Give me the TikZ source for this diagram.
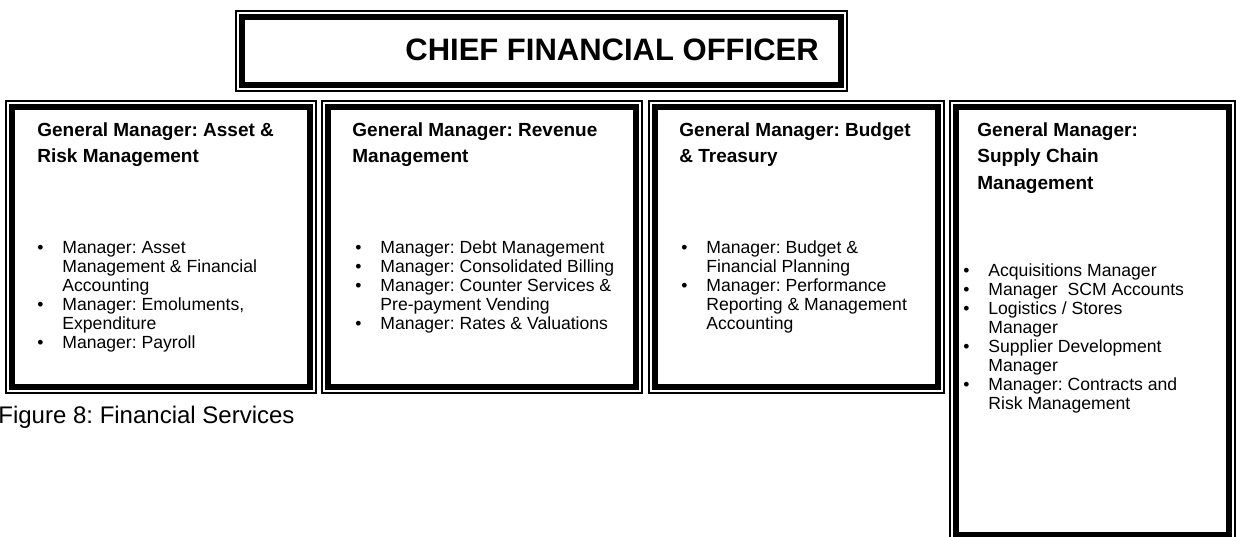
\documentclass[tikz,border=0pt]{standalone}
\usepackage{fontspec}
\setmainfont{Liberation Sans}
\usetikzlibrary{positioning}

\newcommand{\itm}{\makebox[12.5pt][l]{\textbullet}}
\newcommand{\cnt}{\hspace*{12.5pt}}
\newcommand{\lines}[1]{\begin{tabular}[t]{@{}l@{}}#1\end{tabular}}

\begin{document}
\begin{tikzpicture}[x=0.5pt,y=-0.5pt,
    framebox/.style={draw,line width=3pt,inner sep=0pt,outer sep=0pt},
    head/.style={anchor=base west,inner sep=0pt,font=\frenchspacing\bfseries\fontsize{9.5}{13.25}\selectfont},
    list/.style={anchor=base west,inner sep=0pt,font=\frenchspacing\fontsize{8.8}{9.5}\selectfont}]
          \useasboundingbox (0,0) rectangle (1237,536);
          \begin{scope}
            \node (cfo) at (541.5,51) [framebox,minimum width=299.5pt,minimum height=34pt]{};
            \node (gmAsset) at (161,247) [framebox,minimum width=149pt,minimum height=140pt]{};
            \node (gmRevenue) at (482,247) [framebox,minimum width=154pt,minimum height=140pt]{};
            \node (gmBudget) at (796.5,247) [framebox,minimum width=141.5pt,minimum height=140pt]{};
            \node (gmSupply) at (1092.5,321) [framebox,minimum width=136.5pt,minimum height=214pt]{};

            % thin outer rule round every box
            \foreach \b in {cfo,gmAsset,gmRevenue,gmBudget,gmSupply}
              \draw[line width=0.75pt] ([shift={(-3.1pt,3.1pt)}]\b.north west) rectangle ([shift={(3.1pt,-3.1pt)}]\b.south east);

            \node (cfoText) at (405,60) [anchor=base west,inner sep=0pt,font=\bfseries\fontsize{15.5}{18}\selectfont]{CHIEF FINANCIAL OFFICER};

            \node (assetHead) at (37,136) [head]{\lines{General Manager: Asset \&\\Risk Management}};
            \node (assetList) at (37,253) [list]{\lines{\itm Manager: Asset\\\cnt Management \& Financial\\\cnt Accounting\\\itm Manager: Emoluments,\\\cnt Expenditure\\\itm Manager: Payroll}};

            \node (revenueHead) at (352,136) [head]{\lines{General Manager: Revenue\\Management}};
            \node (revenueList) at (355,253) [list]{\lines{\itm Manager: Debt Management\\\itm Manager: Consolidated Billing\\\itm Manager: Counter Services \&\\\cnt Pre-payment Vending\\\itm Manager: Rates \& Valuations}};

            \node (budgetHead) at (679,136) [head]{\lines{General Manager: Budget\\\& Treasury}};
            \node (budgetList) at (681,253) [list]{\lines{\itm Manager: Budget \&\\\cnt Financial Planning\\\itm Manager: Performance\\\cnt Reporting \& Management\\\cnt Accounting}};

            \node (supplyHead) at (977,136) [head]{\lines{General Manager:\\Supply Chain\\Management}};
            \node (supplyList) at (963,276) [list]{\lines{\itm Acquisitions Manager\\\itm Manager\ \ SCM Accounts\\\itm Logistics / Stores\\\cnt Manager\\\itm Supplier Development\\\cnt Manager\\\itm Manager: Contracts and\\\cnt Risk Management}};

            \node (caption) at (-2,423) [anchor=base west,inner sep=0pt,font=\frenchspacing\fontsize{12}{14}\selectfont]{Figure 8: Financial Services};
          \end{scope}
\end{tikzpicture}
\end{document}
